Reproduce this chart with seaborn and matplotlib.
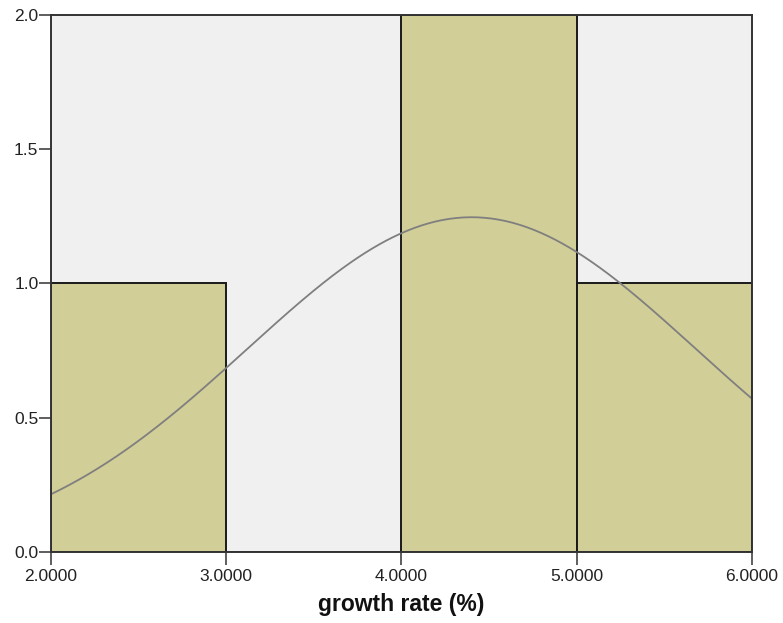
import numpy as np
import pandas as pd
import matplotlib
matplotlib.use('Agg')
import matplotlib.pyplot as plt
import matplotlib.ticker as mticker
import seaborn as sns

# --- Data ---
bin_edges = [2.0, 3.0, 4.0, 5.0, 6.0]
bin_counts = [1, 0, 2, 1]
curve_mean = 4.4
curve_sd = 1.28
n_obs = 4
x_ticks = [2.0, 3.0, 4.0, 5.0, 6.0]
y_ticks = [0.0, 0.5, 1.0, 1.5, 2.0]

BAR = '#D2CE98'
BG = '#F0F0F0'
CURVE = '#7F7F7F'

sns.set_style('white')
plt.rcParams['font.family'] = ['Liberation Sans', 'DejaVu Sans']

centers = [(a + b) / 2 for a, b in zip(bin_edges[:-1], bin_edges[1:])]
df = pd.DataFrame({'growth': centers, 'count': bin_counts})

fig = plt.figure(figsize=(7.83, 6.23), dpi=100)
ax = fig.add_axes([0.0651, 0.114, 0.8953, 0.862])
ax.set_facecolor(BG)

sns.histplot(data=df, x='growth', weights='count', bins=bin_edges, ax=ax,
             color=BAR, alpha=1, edgecolor='#1a1a1a', linewidth=1.4)

# normal curve scaled to counts (N * bin width)
bw = bin_edges[1] - bin_edges[0]
xs = np.linspace(bin_edges[0], bin_edges[-1], 300)
ys = n_obs * bw * np.exp(-0.5 * ((xs - curve_mean) / curve_sd) ** 2) / (curve_sd * np.sqrt(2 * np.pi))
sns.lineplot(x=xs, y=ys, ax=ax, color=CURVE, linewidth=1.3)

ax.set_xlim(bin_edges[0], bin_edges[-1])
ax.set_ylim(0, 2.0)
ax.set_xticks(x_ticks)
ax.set_yticks(y_ticks)
ax.xaxis.set_major_formatter(mticker.FormatStrFormatter('%.4f'))
ax.yaxis.set_major_formatter(mticker.FormatStrFormatter('%.1f'))
ax.tick_params(axis='both', direction='out', length=9, width=1.1, color='#333333',
               labelsize=12.5, labelcolor='#222222')
ax.tick_params(axis='x', bottom=True, pad=3)
ax.tick_params(axis='y', left=True, pad=0)

for s in ax.spines.values():
    s.set_color('#333333')
    s.set_linewidth(1.4)

ax.set_ylabel('')
ax.set_xlabel('growth rate (%)', fontsize=16.5, fontweight='bold', color='#111111', labelpad=7)

fig.savefig('out.png', dpi=100, facecolor='white')
